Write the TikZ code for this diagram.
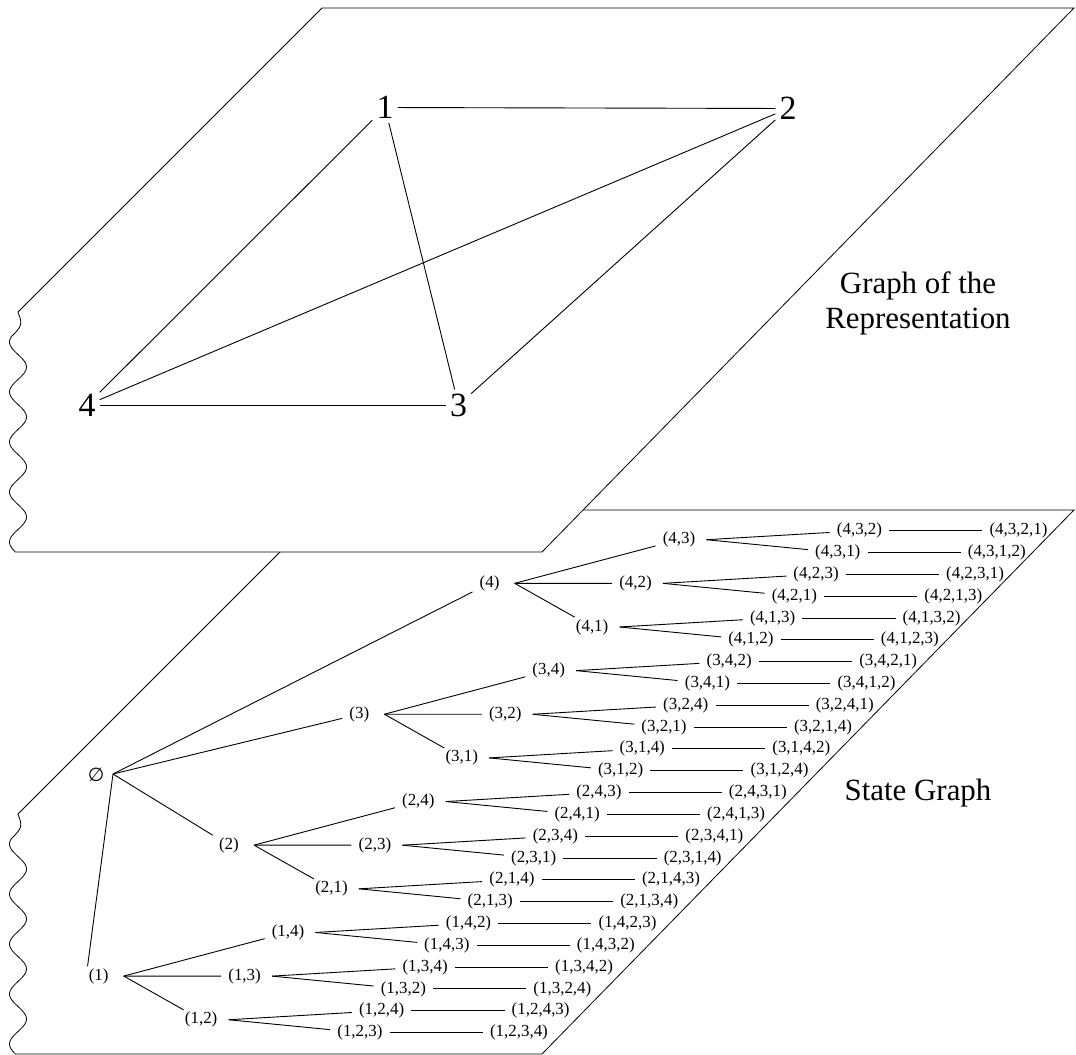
\documentclass[tikz,border=0pt]{standalone}
\usepackage{fontspec}
\setmainfont{Liberation Serif}
\newfontfamily\symbfont{DejaVu Sans}
\newcommand\leafrow[3]{%
  \node[st] (ra#1) at ({859.5-21.72*#1},{530.7+21.82*#1}) {#2};
  \node[st] (rb#1) at ({1018.5-21.72*#1},{530.7+21.82*#1}) {#3};
  \draw[tl] (ra#1.east) -- (rb#1.west);}
\newcommand\midnode[2]{\node[st] (m#1) at ({679-43.44*#1},{539.7+43.64*#1}) {#2};}
\newcommand\firstnode[2]{\node[st] (f#1) at ({489.6-130.32*#1},{583.3+130.92*#1}) {#2};}
\begin{document}
\begin{tikzpicture}[x=1bp,y=-1bp,
  tl/.style={line width=0.9bp},
  plane/.style={line width=0.8bp,line join=miter},
  st/.style={font=\fontsize{17}{20}\selectfont, inner xsep=7bp, inner ysep=2bp},
  gv/.style={font=\fontsize{34}{40}\selectfont, inner sep=4bp},
  ttl/.style={font=\fontsize{31}{36}\selectfont, inner sep=0pt}]
\useasboundingbox (0,0) rectangle (1076,1055);
% lower plane (state graph)
\begin{scope}[shift={(0,502)}]
\draw[plane] (322,8) -- (1074,8) -- (542,552) -- plot[domain=552:312,samples=161,variable=\t] ({18-8.5*min(1,(\t-312)/25)*cos(7.2*(\t-342))},\t) -- cycle;
\end{scope}
% upper plane (graph of the representation)
\draw[plane,fill=white] (322,8) -- (1074,8) -- (542,552) -- plot[domain=552:312,samples=161,variable=\t] ({18-8.5*min(1,(\t-312)/25)*cos(7.2*(\t-342))},\t) -- cycle;

% graph of the representation
\node[gv] (g1) at (385,107.5) {1};
\node[gv] (g2) at (788,108.5) {2};
\node[gv] (g3) at (458.5,405) {3};
\node[gv] (g4) at (87,405) {4};
\draw[tl] (g1) -- (g2);
\draw[tl] (g4) -- (g3);
\draw[tl] (g4) -- (g1);
\draw[tl] (g4) -- (g2);
\draw[tl] (g1) -- (g3);
\draw[tl] (g3) -- (g2);

\node[ttl, anchor=base] (ttlA) at (918,293.5) {Graph of the};
\node[ttl, anchor=base] (ttlB) at (918,328.5) {Representation};
\node[ttl, anchor=base] (ttlC) at (918,800) {State Graph};

% state graph
\node[font=\fontsize{19}{22}\symbfont, inner sep=0pt] (root) at (96,775) {∅};
\coordinate (rt) at (113,774);

\firstnode{0}{(4)}
\firstnode{1}{(3)}
\firstnode{2}{(2)}
\firstnode{3}{(1)}

\midnode{0}{(4,3)}
\midnode{1}{(4,2)}
\midnode{2}{(4,1)}
\midnode{3}{(3,4)}
\midnode{4}{(3,2)}
\midnode{5}{(3,1)}
\midnode{6}{(2,4)}
\midnode{7}{(2,3)}
\midnode{8}{(2,1)}
\midnode{9}{(1,4)}
\midnode{10}{(1,3)}
\midnode{11}{(1,2)}

\leafrow{0}{(4,3,2)}{(4,3,2,1)}
\leafrow{1}{(4,3,1)}{(4,3,1,2)}
\leafrow{2}{(4,2,3)}{(4,2,3,1)}
\leafrow{3}{(4,2,1)}{(4,2,1,3)}
\leafrow{4}{(4,1,3)}{(4,1,3,2)}
\leafrow{5}{(4,1,2)}{(4,1,2,3)}
\leafrow{6}{(3,4,2)}{(3,4,2,1)}
\leafrow{7}{(3,4,1)}{(3,4,1,2)}
\leafrow{8}{(3,2,4)}{(3,2,4,1)}
\leafrow{9}{(3,2,1)}{(3,2,1,4)}
\leafrow{10}{(3,1,4)}{(3,1,4,2)}
\leafrow{11}{(3,1,2)}{(3,1,2,4)}
\leafrow{12}{(2,4,3)}{(2,4,3,1)}
\leafrow{13}{(2,4,1)}{(2,4,1,3)}
\leafrow{14}{(2,3,4)}{(2,3,4,1)}
\leafrow{15}{(2,3,1)}{(2,3,1,4)}
\leafrow{16}{(2,1,4)}{(2,1,4,3)}
\leafrow{17}{(2,1,3)}{(2,1,3,4)}
\leafrow{18}{(1,4,2)}{(1,4,2,3)}
\leafrow{19}{(1,4,3)}{(1,4,3,2)}
\leafrow{20}{(1,3,4)}{(1,3,4,2)}
\leafrow{21}{(1,3,2)}{(1,3,2,4)}
\leafrow{22}{(1,2,4)}{(1,2,4,3)}
\leafrow{23}{(1,2,3)}{(1,2,3,4)}

\foreach \j in {0,1,2} {\draw[tl] (rt) -- (f\j);}
\draw[tl] (rt) -- ([xshift=6bp]f3.north west);
\foreach \j [evaluate=\j as \a using int(3*\j), evaluate=\j as \b using int(3*\j+1), evaluate=\j as \c using int(3*\j+2)] in {0,...,3} {
  \draw[tl] ([xshift=8bp]f\j.east) -- (m\a);
  \draw[tl] ([xshift=8bp]f\j.east) -- (m\b);
  \draw[tl] ([xshift=8bp]f\j.east) -- (m\c);
}
\foreach \k [evaluate=\k as \a using int(2*\k), evaluate=\k as \b using int(2*\k+1)] in {0,...,11} {
  \draw[tl] ([xshift=4bp]m\k.east) -- (ra\a);
  \draw[tl] ([xshift=4bp]m\k.east) -- (ra\b);
}
\end{tikzpicture}
\end{document}
